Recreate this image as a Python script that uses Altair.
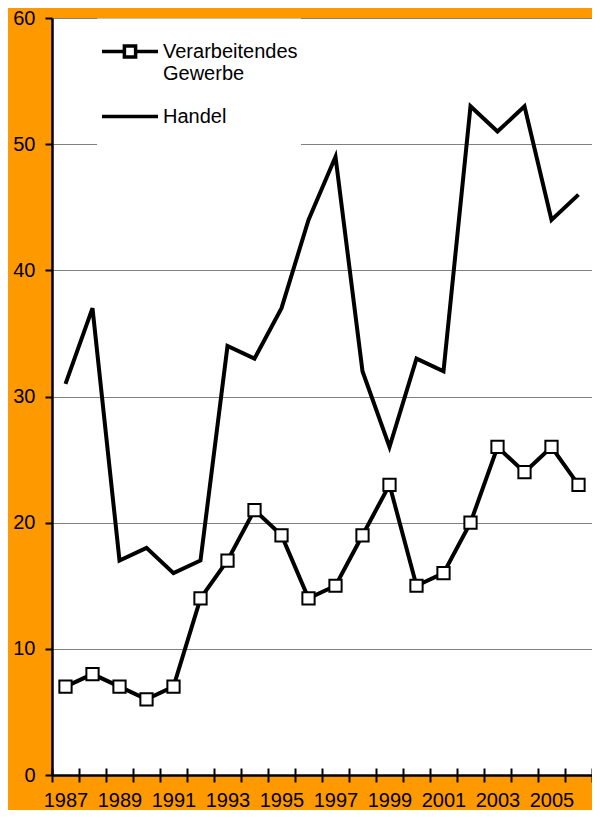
import altair as alt
import pandas as pd

years = list(range(1987, 2007))
verarbeitendes = [7, 8, 7, 6, 7, 14, 17, 21, 19, 14, 15, 19, 23, 15, 16, 20, 26, 24, 26, 23]
handel = [31, 37, 17, 18, 16, 17, 34, 33, 37, 44, 49, 32, 26, 33, 32, 53, 51, 53, 44, 46]
series_names = ["Verarbeitendes Gewerbe", "Handel"]
y_ticks = [0, 10, 20, 30, 40, 50, 60]
x_label_years = [1987, 1989, 1991, 1993, 1995, 1997, 1999, 2001, 2003, 2005]
x_tick_positions = [yr - 0.5 for yr in range(1987, 2008)]

df = pd.DataFrame({
    "Jahr": years + years,
    "Wert": verarbeitendes + handel,
    "Reihe": [series_names[0]] * len(years) + [series_names[1]] * len(years),
})

FONT = "Liberation Sans"
xscale = alt.Scale(domain=[1986.5, 2006.5], nice=False, zero=False)
yscale = alt.Scale(domain=[0, 60], nice=False)

yaxis = alt.Axis(values=y_ticks, grid=True, gridColor="#808080", gridWidth=1,
                 tickSize=7, tickWidth=2, tickColor="black",
                 domainColor="black", domainWidth=2.5,
                 labelFontSize=20, labelFont=FONT, labelColor="black",
                 labelPadding=10, title=None)

x_label_axis = alt.Axis(values=x_label_years, format="d", ticks=False, domain=True,
                        domainColor="black", domainWidth=2.5, grid=False,
                        labelFontSize=20, labelFont=FONT, labelColor="black",
                        labelPadding=15, labelFlush=False, labelOverlap=False,
                        orient="bottom", title=None)

x_tick_axis = alt.Axis(values=x_tick_positions, labels=False, domain=False, grid=False,
                       tickSize=14, tickWidth=2, tickColor="black", offset=-7,
                       orient="bottom", title=None)

base = alt.Chart(df)

lines = base.mark_line(color="black", strokeWidth=4).encode(
    x=alt.X("Jahr:Q", scale=xscale, axis=x_label_axis),
    y=alt.Y("Wert:Q", scale=yscale, axis=yaxis),
    detail="Reihe:N",
)

points = base.transform_filter(
    alt.datum.Reihe == series_names[0]
).mark_point(shape="square", filled=True, fill="white", stroke="black",
             strokeWidth=2, size=150, opacity=1).encode(
    x=alt.X("Jahr:Q", scale=xscale, axis=x_tick_axis),
    y=alt.Y("Wert:Q", scale=yscale, axis=yaxis),
)

pathA = "M-1,0H-0.2M0.2,0H1M-0.2,-0.2H0.2V0.2H-0.2Z"
pathB = "M-1,0H1"

legend_layer = base.transform_filter("false").mark_point(
    filled=False, stroke="black", strokeWidth=3.5, opacity=1
).encode(
    x=alt.X("Jahr:Q", scale=xscale, axis=None),
    y=alt.Y("Wert:Q", scale=yscale, axis=yaxis),
    shape=alt.Shape("Reihe:N", scale=alt.Scale(domain=series_names, range=[pathA, pathB]),
                    legend=alt.Legend(
                        title="\u00a0", titleOrient="bottom", titleFontSize=10,
                        titlePadding=6,
                        orient="none", legendX=45, legendY=0.5,
                        fillColor="white", padding=3,
                        labelFontSize=20, labelFont=FONT, labelColor="black",
                        labelExpr="datum.label == 'Verarbeitendes Gewerbe' ? ['Verarbeitendes', 'Gewerbe'] : datum.label",
                        symbolSize=3136, symbolStrokeWidth=3.5,
                        symbolStrokeColor="black",
                        rowPadding=3, labelOffset=3,
                    )),
)

chart = alt.layer(lines, points, legend_layer).resolve_axis(x="independent").properties(
    width=540, height=757,
    autosize=alt.AutoSizeParams(type="none"),
    padding={"left": 44, "top": 10, "right": 0, "bottom": 35},
    background="#FF9900",
).configure_view(fill="white", stroke=None)

chart.save("out.html", embed_options={"renderer": "svg", "actions": False})
